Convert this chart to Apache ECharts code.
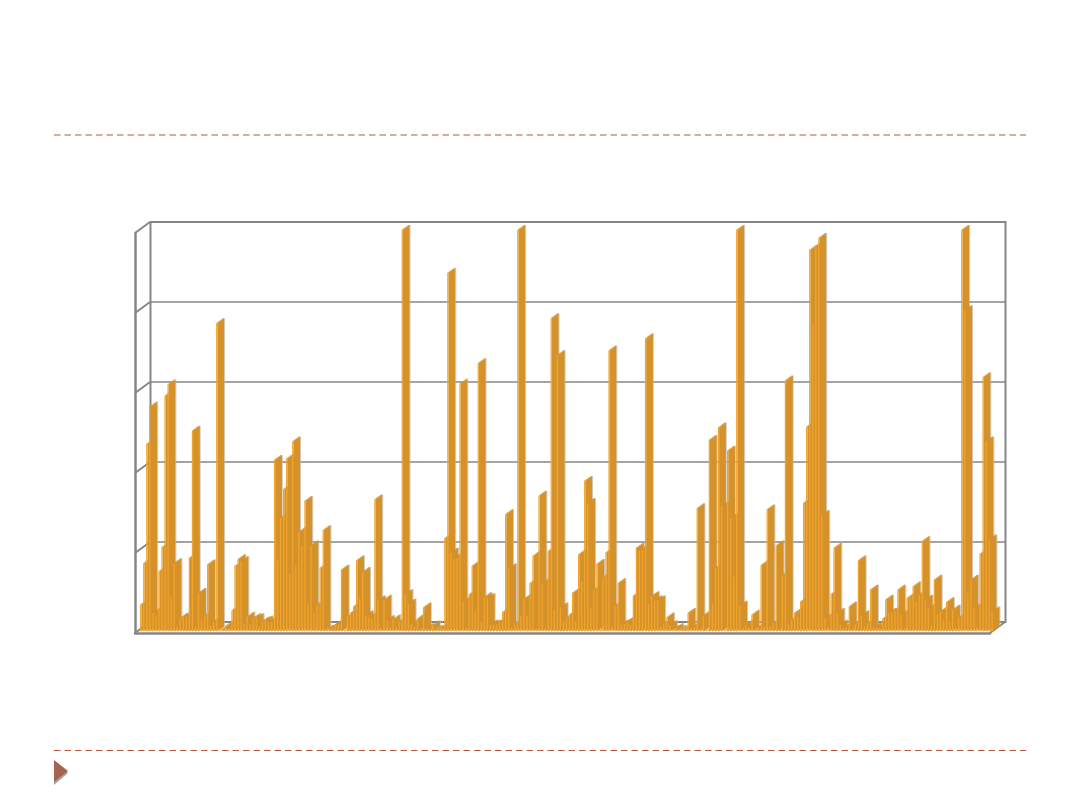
<!DOCTYPE html>
<html>
<head>
<meta charset="utf-8">
<style>html,body{margin:0;padding:0;background:#fff}#chart{width:1080px;height:810px}</style>
<script src="https://cdn.jsdelivr.net/npm/echarts@6/dist/echarts.min.js"></script>
</head>
<body>
<div id="chart"></div>
<script>
// Values, as a share of the axis (0-100), in four runs along the axis.
const valuesA = [6.7,17,46.7,56,4.6,4,15,21,58.7,61.5,8.7,17,1.2,3.3,3.7,3.7,18.3,50,1.2,9.6,3,4,16.7,1.4,2.5,76.8,0.2,0.4,1.4,0.8,5.2,16.3,18,17.5,1.9,3.7,1.7,3.3,3.3,1.2,2.5,2.7,2.3,2.3,42.7,17.7,28.3,35.4,43,14.6,47.3,16.5,24.8,21.3,32.5,7,21.4,4.6,6.7,15.8,25.2,0.4,0.7,1,1.7,1.7,15.4,0.2,3.7];
const valuesB = [4.6,6.2,17.7,8.3,14.8,4,3.5,3.2,32.9,7.7,0.8,7.9,2.8,1,3,1.1,2.5,100,9.3,6.9,1.8,1.1,3.2,0.4,6,0.8,0.4,1.5,0.4,0.4,1,23.2,89.3,19.6,18.2,18.3,61.7,7.5,0.8,9.2,16.3,5,66.8,2.3,8.5,8.3,1.7,1.7,1.8,2.3,4.8,29.2,15.7,1,1.8,100,4,8.1,4,12,18.8,0.7,33.8,12,0.8,20,78,5.4,68.8,6,2.5,3.3,4.2];
const valuesC = [9.6,2.5,19.2,12.5,37.5,32,5.8,10.4,16.8,0.2,13.5,19.6,70,1.2,6.5,12,1.7,1.8,2.5,1.7,8.9,20.8,20.2,20.2,73,7,8.75,7.7,7.7,1.2,1.8,3.5,1.5,0.4,0.8,0.4,0.4,0.4,4.6,0.8,1.2,30.7,0.4,4,0.2,47.7,7,15.8,50.8,31.2,0.2,45,28.3,13.7,100,6.4,1,1.7,1,4.2,0.4,1,16.5,1.2,30.4,1.4,2,21.4,0.4,14,62.5,2];
const valuesD = [2.9,4.6,3.7,7.5,32,51,95,76.7,96,98,29,3.3,1.2,9.3,20.8,4.6,1.7,0.8,1.2,6.2,0.4,1.8,17.7,4,1.2,2,10.4,1,1,0.8,3.2,7.9,4.6,4.8,5.2,10.4,4.2,0.4,8.3,8.5,11.2,7.5,9.2,22.5,7.9,5.7,1.7,12.9,4.3,5,2.7,7.3,2.5,5.4,1.2,3.5,100,80,9.6,12.9,5.8,1.2,19.3,63.3,47.3,22.9,5];
const values = valuesA.concat(valuesB, valuesC, valuesD);
const categories = values.map((_, i) => String(i + 1));
const tickValues = [0, 20, 40, 60, 80, 100];
const wallEdges = tickValues.map(v => [0, v]).concat([[1, 0]]);

const faceColor = '#f2a42c';
const sideColor = '#d5922a';
const topColor = '#cf8f2c';
const edgeColor = '#bdb7ab';
const frameColor = '#868686';
const accent = '#b5583c';
const DX = 6.9, DY = 5;

function renderBar(params, api) {
  const i = api.value(0), v = api.value(1);
  const base = api.coord([i, 0]);
  const head = api.coord([i, v]);
  const w = 1.25;
  const x0 = base[0] - w / 2, x1 = x0 + w, yb = base[1], yt = head[1];
  return {
    type: 'group',
    children: [
      { type: 'polygon', shape: { points: [[x1, yb], [x1 + DX, yb - DY], [x1 + DX, yt - DY], [x1, yt]] },
        style: { fill: sideColor, stroke: null } },
      { type: 'line', shape: { x1: x1 + DX + 0.3, y1: yb - DY, x2: x1 + DX + 0.3, y2: yt - DY },
        style: { stroke: edgeColor, lineWidth: 0.7 } },
      { type: 'polygon', shape: { points: [[x0, yt], [x1, yt], [x1 + DX, yt - DY], [x0 + DX, yt - DY]] },
        style: { fill: topColor, stroke: null } },
      { type: 'rect', shape: { x: x0, y: yt, width: w, height: yb - yt },
        style: { fill: faceColor, stroke: null } }
    ]
  };
}

function renderWallEdge(params, api) {
  const p = api.coord([api.value(0), api.value(1)]);
  return { type: 'line', shape: { x1: p[0], y1: p[1], x2: p[0] + 15, y2: p[1] - 11 },
    style: { stroke: frameColor, lineWidth: 2 } };
}

const chart = echarts.init(document.getElementById('chart'), null, { renderer: 'canvas' });
const hidden = { show: false };
chart.setOption({
  animation: false,
  backgroundColor: '#fff',
  tooltip: hidden,
  grid: [
    { left: 150.5, top: 222, width: 855, height: 400, show: true, borderColor: frameColor, borderWidth: 2, backgroundColor: 'transparent' },
    { left: 135, top: 233, width: 855, height: 400 },
    { left: 139.2, top: 230, width: 854.5, height: 401.5 }
  ],
  xAxis: [
    { gridIndex: 0, type: 'value', min: 0, max: 1, axisLine: hidden, axisTick: hidden, axisLabel: hidden, splitLine: hidden },
    { gridIndex: 1, type: 'value', min: 0, max: 1, axisLine: { show: true, onZero: true, lineStyle: { color: frameColor, width: 2.5 } }, axisTick: hidden, axisLabel: hidden, splitLine: hidden },
    { gridIndex: 2, type: 'category', data: categories, axisLine: hidden, axisTick: hidden, axisLabel: hidden, splitLine: hidden }
  ],
  yAxis: [
    { gridIndex: 0, type: 'value', min: 0, max: 100, interval: 20, axisLine: hidden, axisTick: hidden, axisLabel: hidden,
      splitLine: { show: true, lineStyle: { color: frameColor, width: 1.6 } } },
    { gridIndex: 1, type: 'value', min: 0, max: 100, interval: 20, axisLine: { show: true, lineStyle: { color: frameColor, width: 2.5 } }, axisTick: hidden, axisLabel: hidden, splitLine: hidden },
    { gridIndex: 2, type: 'value', min: 0, max: 100, axisLine: hidden, axisTick: hidden, axisLabel: hidden, splitLine: hidden }
  ],
  series: [
    { type: 'custom', name: 'walls', xAxisIndex: 1, yAxisIndex: 1, z: 1, silent: true, clip: false,
      renderItem: renderWallEdge, encode: { x: 0, y: 1 }, data: wallEdges },
    { type: 'custom', name: 'values', xAxisIndex: 2, yAxisIndex: 2, z: 3, silent: true, clip: false,
      renderItem: renderBar, encode: { x: 0, y: 1 }, data: values.map((v, i) => [i, v]) }
  ],
  graphic: [
    { type: 'line', silent: true, shape: { x1: 54, y1: 135, x2: 1026, y2: 135 }, style: { stroke: accent, lineWidth: 1.2, lineDash: [6.5, 4] } },
    { type: 'line', silent: true, shape: { x1: 54, y1: 750.5, x2: 1026, y2: 750.5 }, style: { stroke: accent, lineWidth: 1.2, lineDash: [6.5, 4] } },
    { type: 'polygon', silent: true, shape: { points: [[54, 763], [68, 773], [54, 785]] }, style: { fill: '#a3a3a3' } },
    { type: 'polygon', silent: true, shape: { points: [[54, 760], [68, 771], [54, 782]] }, style: { fill: '#a8634e' } }
  ]
});
</script>
</body>
</html>
